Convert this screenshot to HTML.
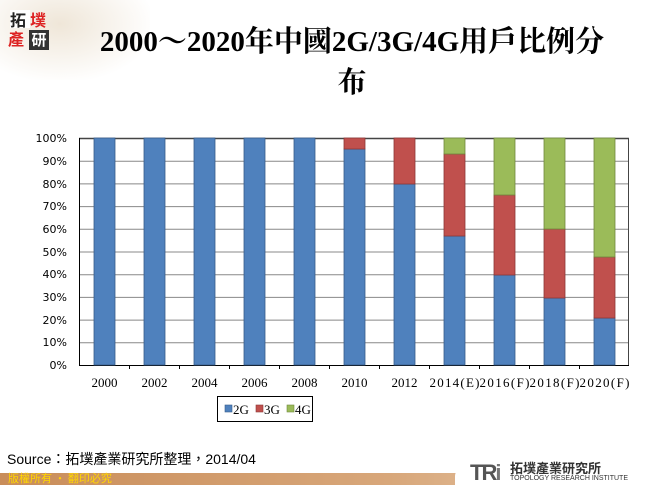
<!DOCTYPE html>
<html><head><meta charset="utf-8"><style>
body{margin:0;width:650px;height:485px;overflow:hidden;background:#fff;position:relative;font-family:"Liberation Serif","Noto Serif CJK SC",serif}
.t{position:absolute;left:0;width:704px;text-align:center;font-weight:bold;font-size:29px;color:#000;top:22px;line-height:41px}
</style></head><body>
<div style="position:absolute;left:0;top:0;width:150px;height:80px;background:radial-gradient(ellipse at 40% 30%,#efe6d8,#fff 75%)"></div>
<div style="position:absolute;left:10px;top:10px;width:20px;height:18px;background:#fff;font:bold 16px 'Noto Sans CJK TC',sans-serif;color:#222;line-height:18px">拓</div>
<div style="position:absolute;left:30px;top:10px;font:bold 16px 'Noto Sans CJK TC',sans-serif;color:#d22;line-height:18px">墣</div>
<div style="position:absolute;left:8px;top:29px;font:bold 16px 'Noto Sans CJK TC',sans-serif;color:#d22;line-height:18px">產</div>
<div style="position:absolute;left:29px;top:30px;width:20px;height:20px;background:#333;font:bold 15px 'Noto Sans CJK TC',sans-serif;color:#fff;line-height:20px;text-align:center">研</div>
<div class="t">2000～2020年中國2G/3G/4G用戶比例分<br>布</div>
<svg width="650" height="485" style="position:absolute;left:0;top:0" font-family="Liberation Serif, Noto Serif CJK SC, serif" font-size="11">
<g stroke="#888" stroke-width="1">
<line x1="79" x2="629" y1="138.5" y2="138.5" stroke="#444" stroke-width="1.5"/>
<line x1="79" x2="629" y1="161.2" y2="161.2"/><line x1="79" x2="629" y1="183.9" y2="183.9"/><line x1="79" x2="629" y1="206.6" y2="206.6"/><line x1="79" x2="629" y1="229.3" y2="229.3"/><line x1="79" x2="629" y1="252" y2="252"/><line x1="79" x2="629" y1="274.7" y2="274.7"/><line x1="79" x2="629" y1="297.4" y2="297.4"/><line x1="79" x2="629" y1="320.1" y2="320.1"/><line x1="79" x2="629" y1="342.8" y2="342.8"/>
</g>
<line x1="628.5" x2="628.5" y1="138" y2="365" stroke="#444"/>
<line x1="79.5" x2="79.5" y1="138" y2="365" stroke="#000"/>
<line x1="79" x2="629" y1="365.5" y2="365.5" stroke="#000"/>
<g stroke="#000"><line x1="129.5" x2="129.5" y1="365" y2="369"/><line x1="179.5" x2="179.5" y1="365" y2="369"/><line x1="229.5" x2="229.5" y1="365" y2="369"/><line x1="279.5" x2="279.5" y1="365" y2="369"/><line x1="329.5" x2="329.5" y1="365" y2="369"/><line x1="379.5" x2="379.5" y1="365" y2="369"/><line x1="429.5" x2="429.5" y1="365" y2="369"/><line x1="479.5" x2="479.5" y1="365" y2="369"/><line x1="529.5" x2="529.5" y1="365" y2="369"/><line x1="579.5" x2="579.5" y1="365" y2="369"/></g>
<g stroke-width="0.8">
<rect x="94" y="138" width="21" height="227" fill="#4f81bd" stroke="#385d8a"/>
<rect x="144" y="138" width="21" height="227" fill="#4f81bd" stroke="#385d8a"/>
<rect x="194" y="138" width="21" height="227" fill="#4f81bd" stroke="#385d8a"/>
<rect x="244" y="138" width="21" height="227" fill="#4f81bd" stroke="#385d8a"/>
<rect x="294" y="138" width="21" height="227" fill="#4f81bd" stroke="#385d8a"/>
<rect x="344" y="149" width="21" height="216" fill="#4f81bd" stroke="#385d8a"/>
<rect x="344" y="138" width="21" height="11" fill="#c0504d" stroke="#8c3836"/>
<rect x="394" y="184" width="21" height="181" fill="#4f81bd" stroke="#385d8a"/>
<rect x="394" y="138" width="21" height="46" fill="#c0504d" stroke="#8c3836"/>
<rect x="444" y="236" width="21" height="129" fill="#4f81bd" stroke="#385d8a"/>
<rect x="444" y="154" width="21" height="82" fill="#c0504d" stroke="#8c3836"/>
<rect x="444" y="138" width="21" height="16" fill="#9bbb59" stroke="#71893f"/>
<rect x="494" y="275" width="21" height="90" fill="#4f81bd" stroke="#385d8a"/>
<rect x="494" y="195" width="21" height="80" fill="#c0504d" stroke="#8c3836"/>
<rect x="494" y="138" width="21" height="57" fill="#9bbb59" stroke="#71893f"/>
<rect x="544" y="298" width="21" height="67" fill="#4f81bd" stroke="#385d8a"/>
<rect x="544" y="229" width="21" height="69" fill="#c0504d" stroke="#8c3836"/>
<rect x="544" y="138" width="21" height="91" fill="#9bbb59" stroke="#71893f"/>
<rect x="594" y="318" width="21" height="47" fill="#4f81bd" stroke="#385d8a"/>
<rect x="594" y="257" width="21" height="61" fill="#c0504d" stroke="#8c3836"/>
<rect x="594" y="138" width="21" height="119" fill="#9bbb59" stroke="#71893f"/>
</g>
<g text-anchor="end" font-family="DejaVu Sans, sans-serif" font-size="11">
<text x="67" y="142">100%</text><text x="67" y="165">90%</text><text x="67" y="188">80%</text><text x="67" y="210">70%</text><text x="67" y="233">60%</text><text x="67" y="256">50%</text><text x="67" y="278">40%</text><text x="67" y="301">30%</text><text x="67" y="324">20%</text><text x="67" y="346">10%</text><text x="67" y="369">0%</text>
</g>
<g text-anchor="middle" font-size="13">
<text x="104.5" y="387">2000</text><text x="154.5" y="387">2002</text><text x="204.5" y="387">2004</text><text x="254.5" y="387">2006</text><text x="304.5" y="387">2008</text><text x="354.5" y="387">2010</text><text x="404.5" y="387">2012</text><text x="454.5" y="387" textLength="50">2014(E)</text><text x="504.5" y="387" textLength="50">2016(F)</text><text x="554.5" y="387" textLength="50">2018(F)</text><text x="604.5" y="387" textLength="50">2020(F)</text>
</g>
<rect x="217.5" y="396.5" width="95" height="25" fill="#fff" stroke="#000"/>
<rect x="225" y="405" width="7" height="7" fill="#4f81bd" stroke="#385d8a" stroke-width="0.6"/><text x="233" y="414" font-size="13">2G</text>
<rect x="256" y="405" width="7" height="7" fill="#c0504d" stroke="#8c3836" stroke-width="0.6"/><text x="264" y="414" font-size="13">3G</text>
<rect x="287" y="405" width="7" height="7" fill="#9bbb59" stroke="#71893f" stroke-width="0.6"/><text x="295" y="414" font-size="13">4G</text>
</svg>
<div style="position:absolute;left:7px;top:449px;font:14px 'Liberation Sans','Noto Sans CJK TC',sans-serif;color:#000">Source：拓墣產業研究所整理，2014/04</div>
<div style="position:absolute;left:0;top:473px;width:650px;height:12px;background:linear-gradient(90deg,#c98d5a,#d8a77a 60%,#e8cdb0);"></div>
<div style="position:absolute;left:455px;top:462px;width:195px;height:23px;background:#fff;border-top-left-radius:30px 14px"></div>
<div style="position:absolute;left:8px;top:472px;font:11px 'Noto Sans CJK TC',sans-serif;color:#ffd700;line-height:13px">版權所有 • 翻印必究</div>
<div style="position:absolute;left:470px;top:460px;font:bold 22px 'Liberation Sans',sans-serif;color:#555;letter-spacing:-2px">TR<span style="color:#777">i</span></div>
<div style="position:absolute;left:510px;top:458px;font:bold 13px 'Noto Sans CJK TC',sans-serif;color:#333">拓墣產業研究所</div>
<div style="position:absolute;left:510px;top:475px;font:7px 'Liberation Sans',sans-serif;color:#333">TOPOLOGY RESEARCH INSTITUTE</div>
</body></html>
